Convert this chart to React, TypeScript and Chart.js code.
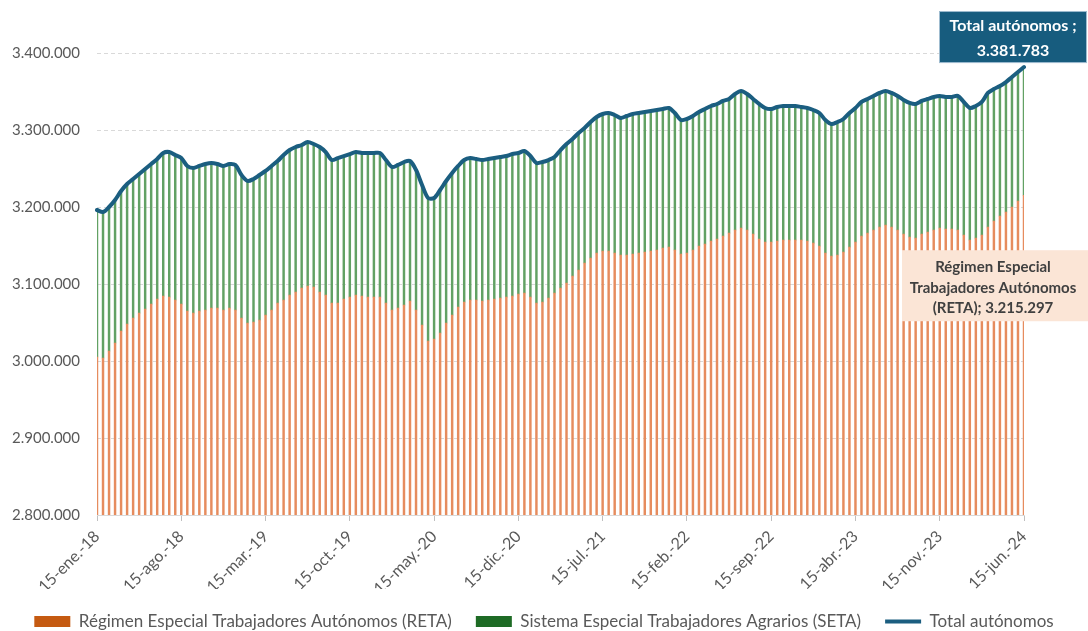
import React, { useEffect, useRef } from 'react';
import { Chart, registerables } from 'chart.js';

Chart.register(...registerables);

// ---- Data ----
const monthNames = ['ene.', 'feb.', 'mar.', 'abr.', 'may.', 'jun.', 'jul.', 'ago.', 'sep.', 'oct.', 'nov.', 'dic.'];
const firstYear = 2018;
const lastYear = 2024;
const lastMonth = 5; // junio

// Fechas quincenales (día 15 y último día de cada mes)
const categories: string[] = (() => {
  const out: string[] = [];
  for (let y = firstYear; y <= lastYear; y++) {
    for (let m = 0; m < 12; m++) {
      if (y === lastYear && m > lastMonth) break;
      const yy = String(y).slice(2);
      out.push(`15-${monthNames[m]}-${yy}`);
      if (y === lastYear && m === lastMonth) break;
      const last = new Date(y, m + 1, 0).getDate();
      out.push(`${last}-${monthNames[m]}-${yy}`);
    }
  }
  return out;
})();

const tickEvery = 14; // una etiqueta cada 7 meses

const totalValues = [
  3196100, 3193500, 3200000, 3209100, 3220800, 3229900, 3236400, 3242900, 3249400, 3255800,
  3262300, 3270100, 3271400, 3267500, 3263600, 3253300, 3250700, 3253300, 3255800, 3257100,
  3255800, 3253300, 3255800, 3254600, 3241600, 3233800, 3236400, 3241600, 3246800, 3253300,
  3259700, 3267500, 3274000, 3277900, 3280500, 3284400, 3281800, 3277900, 3271400, 3261000,
  3263600, 3266200, 3268800, 3271400, 3270100, 3270100, 3270100, 3270100, 3261000, 3252000,
  3254600, 3258400, 3259700, 3248100, 3228600, 3211700, 3211700, 3222100, 3233800, 3244200,
  3253300, 3261000, 3263600, 3262300, 3261000, 3262300, 3263600, 3264900, 3266200, 3268800,
  3270100, 3272700, 3266200, 3257100, 3258400, 3261000, 3264900, 3274000, 3281800, 3288300,
  3296100, 3302600, 3310400, 3316900, 3320800, 3322100, 3319500, 3315600, 3318200, 3320800,
  3322100, 3323400, 3324700, 3326000, 3327300, 3328600, 3322100, 3313000, 3314300, 3318200,
  3323400, 3327300, 3331200, 3333800, 3337700, 3340300, 3346800, 3350600, 3346800, 3340300,
  3333800, 3328600, 3327300, 3329900, 3331200, 3331200, 3331200, 3329900, 3328600, 3326000,
  3322100, 3313000, 3307800, 3310400, 3314300, 3322100, 3328600, 3336400, 3340300, 3344200,
  3348100, 3350600, 3348100, 3344200, 3339000, 3335100, 3333800, 3337700, 3340300, 3342900,
  3344200, 3342900, 3342900, 3344200, 3336400, 3328600, 3331200, 3336400, 3348100, 3353200,
  3357100, 3362300, 3368800, 3375300, 3381783,
];

const retaValues = [
  3005200, 3003900, 3013000, 3023400, 3039000, 3048100, 3055800, 3062300, 3067500, 3074000,
  3080500, 3084400, 3083100, 3079200, 3074000, 3064900, 3062300, 3064900, 3066200, 3068800,
  3068800, 3066200, 3068800, 3066200, 3055800, 3049400, 3050600, 3053200, 3059700, 3066200,
  3075300, 3079200, 3085700, 3089600, 3094800, 3097400, 3096100, 3089600, 3085700, 3075300,
  3075300, 3080500, 3083100, 3085700, 3084400, 3083100, 3083100, 3083100, 3075300, 3066200,
  3068800, 3072700, 3077900, 3066200, 3046800, 3026000, 3028600, 3036400, 3049400, 3059700,
  3070100, 3076600, 3079200, 3079200, 3077900, 3079200, 3080500, 3081800, 3083100, 3084400,
  3087000, 3088300, 3083100, 3075300, 3076600, 3081800, 3088300, 3094800, 3101300, 3110400,
  3118200, 3127300, 3133800, 3140300, 3142800, 3142800, 3140300, 3137700, 3137700, 3139000,
  3140300, 3141500, 3142800, 3144100, 3146700, 3148000, 3144100, 3139000, 3140300, 3144100,
  3149300, 3151900, 3155800, 3158400, 3162300, 3166200, 3170100, 3172700, 3170100, 3164900,
  3158400, 3154500, 3154500, 3155800, 3157100, 3157100, 3157100, 3157100, 3155800, 3153200,
  3149300, 3140300, 3136400, 3137700, 3141500, 3148000, 3154500, 3162300, 3166200, 3170100,
  3174000, 3176600, 3174000, 3170100, 3164900, 3161000, 3159700, 3164900, 3167500, 3170100,
  3172700, 3171400, 3171400, 3170100, 3163600, 3157100, 3159700, 3163600, 3174000, 3181800,
  3188300, 3193500, 3200000, 3207800, 3215297,
];

// SETA = total - RETA (segmento apilado)
const setaValues = totalValues.map((t, i) => t - retaValues[i]);

const yMin = 2800000;
const yMax = 3400000;
const yStep = 100000;

const seriesNames = [
  'Régimen Especial Trabajadores Autónomos (RETA)',
  'Sistema Especial Trabajadores Agrarios (SETA)',
  'Total autónomos',
];

const fmt = (n: number) => Math.round(n).toString().replace(/\B(?=(\d{3})+(?!\d))/g, '.');

const COLORS = {
  reta: '#E68C5E',
  retaLegend: '#C55A11',
  seta: '#62A164',
  setaLegend: '#1E6B25',
  total: '#1B5E80',
  totalBox: '#175C7E',
  retaBox: '#FBE5D6',
  text: '#595959',
  grid: '#D9D9D9',
};

const FONT = 'Lato';

const endLabelsPlugin = {
  id: 'endLabels',
  afterDatasetsDraw(chart: any) {
    const ctx = chart.ctx as CanvasRenderingContext2D;
    const lineMeta = chart.getDatasetMeta(2);
    const p = lineMeta.data[lineMeta.data.length - 1];
    const retaMeta = chart.getDatasetMeta(0);
    const r = retaMeta.data[retaMeta.data.length - 1];
    ctx.save();

    // Total label
    const bw = 148;
    const bh = 52;
    const cx = p.x - 11;
    const bottom = p.y - 4;
    ctx.fillStyle = COLORS.totalBox;
    ctx.fillRect(cx - bw / 2, bottom - bh, bw, bh);
    ctx.strokeStyle = '#9FBCD0';
    ctx.lineWidth = 1;
    ctx.strokeRect(cx - bw / 2 + 0.5, bottom - bh + 0.5, bw - 1, bh - 1);
    ctx.fillStyle = '#FFFFFF';
    ctx.font = `bold 16px ${FONT}`;
    ctx.textAlign = 'center';
    ctx.textBaseline = 'middle';
    ctx.fillText(`${seriesNames[2]} ;`, cx, bottom - bh + 15);
    ctx.fillText(fmt(totalValues[totalValues.length - 1]), cx, bottom - bh + 40);

    // RETA label
    const rTop = r.y + 55;
    const rLeft = r.x - 122;
    const rW = 190;
    const rH = 71;
    const rcx = r.x - 31;
    ctx.fillStyle = COLORS.retaBox;
    ctx.fillRect(rLeft, rTop, rW, rH);
    ctx.fillStyle = '#404040';
    ctx.font = `bold 15px ${FONT}`;
    ctx.fillText('Régimen Especial', rcx, rTop + 17);
    ctx.fillText('Trabajadores Autónomos', rcx, rTop + 37.5);
    ctx.fillText(`(RETA); ${fmt(retaValues[retaValues.length - 1])}`, rcx, rTop + 58);
    ctx.restore();
  },
};

export default function App() {
  const ref = useRef<HTMLCanvasElement>(null);

  useEffect(() => {
    if (!ref.current) return;
    Chart.defaults.font.family = FONT;
    const chart = new Chart(ref.current, {
      type: 'bar',
      data: {
        labels: categories,
        datasets: [
          {
            type: 'bar',
            label: seriesNames[0],
            data: retaValues,
            backgroundColor: COLORS.reta,
            borderWidth: 0,
            barThickness: 1.8,
            stack: 'bars',
            order: 1,
          },
          {
            type: 'bar',
            label: seriesNames[1],
            data: setaValues,
            backgroundColor: COLORS.seta,
            borderWidth: 0,
            barThickness: 1.8,
            stack: 'bars',
            order: 1,
          },
          {
            type: 'line',
            label: seriesNames[2],
            data: totalValues,
            borderColor: COLORS.total,
            backgroundColor: COLORS.total,
            borderWidth: 4,
            pointRadius: 0,
            tension: 0.3,
            borderCapStyle: 'round',
            borderJoinStyle: 'round',
            stack: 'line',
            order: 0,
          },
        ] as any,
      },
      options: {
        animation: false,
        responsive: true,
        maintainAspectRatio: false,
        layout: { padding: { top: 53, left: 0, right: 0, bottom: 0 } },
        plugins: {
          tooltip: { enabled: false },
          legend: {
            position: 'bottom',
            labels: {
              color: COLORS.text,
              font: { size: 17, family: FONT },
              padding: 24,
              usePointStyle: true,
              pointStyleWidth: 36,
              boxHeight: 11,
              sort: (a: any, b: any) => a.datasetIndex - b.datasetIndex,
              generateLabels: (chart: any) => {
                const items = Chart.defaults.plugins.legend.labels.generateLabels(chart);
                return items.map((it: any) => {
                  if (it.datasetIndex === 0) {
                    return { ...it, pointStyle: 'rect', fillStyle: COLORS.retaLegend, lineWidth: 0 };
                  }
                  if (it.datasetIndex === 1) {
                    return { ...it, pointStyle: 'rect', fillStyle: COLORS.setaLegend, lineWidth: 0 };
                  }
                  return { ...it, pointStyle: 'line', strokeStyle: COLORS.total, lineWidth: 4 };
                });
              },
            },
          },
        },
        scales: {
          x: {
            stacked: true,
            offset: false,
            afterFit: (s: any) => {
              s.height = 74;
            },
            grid: {
              offset: false,
              drawOnChartArea: false,
              drawTicks: true,
              tickLength: 6,
              color: '#BFBFBF',
            },
            border: { display: true, color: COLORS.grid, width: 1 },
            ticks: {
              autoSkip: false,
              minRotation: 45,
              maxRotation: 45,
              padding: 6,
              color: COLORS.text,
              font: { size: 16, family: FONT },
              callback: (_v: any, i: number) => (i % tickEvery === 0 ? categories[i] : null),
            },
          },
          y: {
            stacked: true,
            min: yMin,
            max: yMax,
            afterFit: (s: any) => {
              s.width = 97;
            },
            grid: {
              color: COLORS.grid,
              drawTicks: false,
            },
            border: { display: false, dash: [4, 3] },
            ticks: {
              stepSize: yStep,
              padding: 17,
              color: COLORS.text,
              font: { size: 15, family: FONT },
              callback: (v: any) => fmt(Number(v)),
            },
          },
          y2: {
            position: 'right',
            display: true,
            afterFit: (s: any) => {
              s.width = 64;
            },
            grid: { display: false, drawTicks: false },
            border: { display: false },
            ticks: { display: false },
          },
        },
      },
      plugins: [endLabelsPlugin],
    });
    return () => chart.destroy();
  }, []);

  return (
    <div style={{ position: 'absolute', left: 0, top: 0, width: 1088, height: 631, overflow: 'hidden', background: '#fff' }}>
      <div style={{ position: 'relative', width: 1088, height: 640 }}>
        <canvas ref={ref} />
      </div>
    </div>
  );
}
